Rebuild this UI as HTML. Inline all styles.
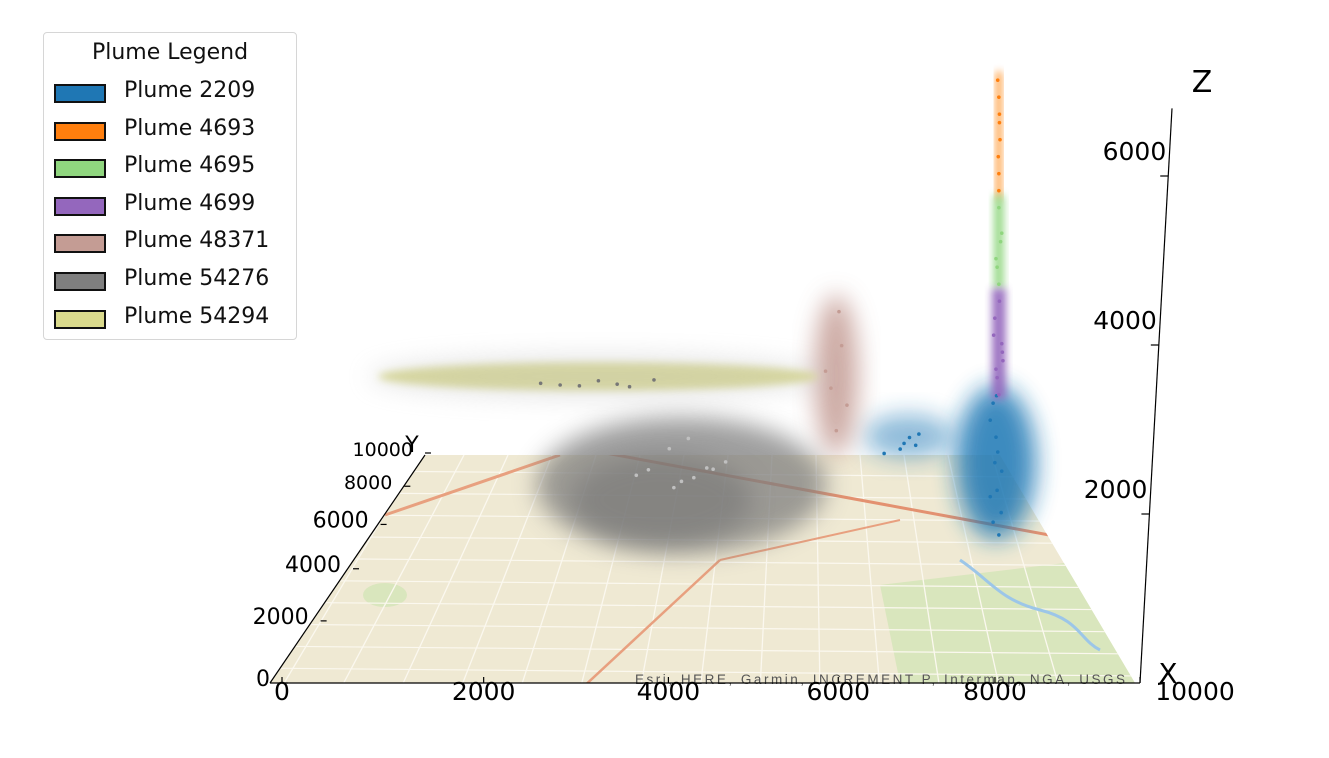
<!DOCTYPE html>
<html><head><meta charset="utf-8">
<style>
body{margin:0;background:#fff;width:1329px;height:758px;overflow:hidden;font-family:"DejaVu Sans","Liberation Sans",sans-serif;}
#legend{position:absolute;left:43px;top:32px;width:254px;height:308px;border:1.5px solid #d6d6d6;border-radius:4px;background:#fff;box-sizing:border-box;}
#legend .t{position:absolute;left:0;width:100%;top:7px;text-align:center;font-size:22px;color:#111;}
.ent{position:absolute;left:10px;height:22px;font-size:22px;color:#111;}
.ent .sw{position:absolute;left:0;top:1px;width:48px;height:15px;border:2px solid #111;}
.ent span{position:absolute;left:70px;top:-5px;white-space:nowrap;}
svg{position:absolute;left:0;top:0;}
</style></head><body>
<svg id="chart" width="1329" height="758"></svg>
<div id="legend">
<div class="t">Plume Legend</div>
</div>
<script>
const plumeNames=["Plume 2209","Plume 4693","Plume 4695","Plume 4699","Plume 48371","Plume 54276","Plume 54294"];
const plumeColors=["#1f77b4","#ff7f0e","#90d67f","#9467bd","#c49c94","#7f7f7f","#dbdb8d"];
// plume cloud centers in data units (x, y, z) and extents
const cloudX=[9000,9050,9050,9050,6700,4000,2600];
const cloudY=[5300,5300,5300,5300,9800,7800,10000];
const cloudZMin=[0,4000,2950,1650,0,0,700];
const cloudZMax=[1800,5500,4050,2950,1900,600,900];
const cloudRX=[40,5,10,14,22,145,220];
// scatter points (x, y, z) per plume, estimated
const ptsX=[[8950,9000,9050,8900,9100,9000,8980,8120,8000,8250,8300,7600,7900,8900,9100,9000,8950,9050],[9050,9040,9060,9050,9030,9070,9050,9060],[9050,9000,9100,9050,9080,9020],[9050,9000,9100,8980,9120,9060,9020,8960,9110],[6700,6600,6800,6750,6500,6900],[4000,3500,4500,3800,4200,3300,4700,4100,3900,4400],[2000,2600,3100,1700,3500,2300,2900]];
const ptsY=[[5300,5200,5400,5300,5350,5250,5300,9900,9800,9950,9850,9700,9600,5300,5300,5300,5300,5300],[5300,5300,5300,5300,5300,5300,5300,5300],[5300,5300,5300,5300,5300,5300],[5300,5300,5300,5300,5300,5300,5300,5300,5300],[9800,9800,9800,9800,9800,9800],[7800,7500,8000,8200,7300,7900,7700,8300,7000,7600],[10000,10000,10000,10000,10000,10000,10000]];
const ptsZ=[[200,600,1000,1400,300,1700,900,200,150,100,250,50,120,500,800,1200,1600,50],[4100,4500,4900,5200,5400,4700,4300,5000],[3000,3300,3600,3900,3500,3200],[1700,2000,2300,2600,2100,2800,1900,2400,2200],[300,800,1300,1700,1000,600],[100,300,200,400,250,150,350,500,200,300],[800,850,780,820,860,790,810]];
const xTicks=[0,2000,4000,6000,8000,10000];
const yTicks=[0,2000,4000,6000,8000,10000];
const zTicks=[2000,4000,6000];

const NS="http://www.w3.org/2000/svg";
const svg=document.getElementById('chart');
function F(t){const a=1.229;return t*a/(1+(a-1)*t);}
function G(t){const b=1.48;return t*b/(1+(b-1)*t);}
function proj(x,y,z){const g=G(y/10000);const L=282+143*g,R=1140-140*g;return [L+(R-L)*F(x/10000),683-230*g-z*0.085];}
function zAxis(z){return [1140+32*(z/6800),683-z*0.0845];}
function mk(tag,attrs,parent){const e=document.createElementNS(NS,tag);for(const k in attrs)e.setAttribute(k,attrs[k]);(parent||svg).appendChild(e);return e;}

const defs=mk('defs',{});
defs.innerHTML='<filter id="b1" x="-50%" y="-50%" width="200%" height="200%"><feGaussianBlur stdDeviation="12"/></filter><filter id="b2" x="-50%" y="-50%" width="200%" height="200%"><feGaussianBlur stdDeviation="4"/></filter><clipPath id="mapclip"><polygon points="270,683 1135,683 1000,455 425,455"/></clipPath>';

// map plane
const map=mk('g',{'clip-path':'url(#mapclip)'});


mk('polygon',{points:"270,683 1135,683 1000,455 425,455",fill:"#efe9d3"},map);
mk('polygon',{points:"880,585 1090,560 1135,683 900,683",fill:"#d9e6bd"},map);
mk('ellipse',{cx:385,cy:595,rx:22,ry:12,fill:"#d9e6bd"},map);
for(let i=0;i<14;i++){mk('line',{x1:280+i*60,y1:690,x2:420+i*44,y2:455,stroke:"#fbf8ef","stroke-width":1.3},map);}
for(let i=0;i<10;i++){const yy=470+i*22;mk('line',{x1:250,y1:yy,x2:1140,y2:yy+8,stroke:"#fbf8ef","stroke-width":1.2},map);}
mk('line',{x1:385,y1:515,x2:560,y2:455,stroke:"#e8a07f","stroke-width":3},map);
mk('line',{x1:600,y1:452,x2:1060,y2:537,stroke:"#e39170","stroke-width":3},map);
mk('line',{x1:580,y1:690,x2:720,y2:560,stroke:"#e8a07f","stroke-width":2.5},map);
mk('line',{x1:720,y1:560,x2:900,y2:520,stroke:"#e8a07f","stroke-width":2},map);
mk('path',{d:"M960,560 C990,580 1000,600 1040,610 S1080,640 1100,650",stroke:"#9cc6e8","stroke-width":3,fill:"none"},map);
const attr=mk('text',{x:635,y:684,'font-size':13.5,fill:"#555","font-family":"Liberation Sans, sans-serif",textLength:490});
attr.textContent="Esri, HERE, Garmin, INCREMENT P, Intermap, NGA, USGS";



// clouds
for(let i=0;i<plumeNames.length;i++){
  const g=mk('g',{});
  
  
  const b=proj(cloudX[i],cloudY[i],cloudZMin[i]),t=proj(cloudX[i],cloudY[i],cloudZMax[i]);
  const cy=(b[1]+t[1])/2, ry=Math.max(12,(b[1]-t[1])/2);
  if(i===5){mk('ellipse',{cx:b[0],cy:b[1]-5,rx:cloudRX[i],ry:68,fill:plumeColors[i],opacity:0.75,filter:'url(#b1)'},g);
    mk('ellipse',{cx:b[0]-20,cy:b[1]+10,rx:90,ry:45,fill:"#6f6f6f",opacity:0.5,filter:'url(#b1)'},g);}
  else if(i===6){mk('ellipse',{cx:b[0],cy:t[1],rx:cloudRX[i],ry:14,fill:plumeColors[i],opacity:0.9,filter:'url(#b2)'},g);
    mk('ellipse',{cx:b[0],cy:t[1],rx:cloudRX[i]+10,ry:22,fill:"#bbb",opacity:0.35,filter:'url(#b1)'},g);}
  else if(i===1||i===2||i===3){mk('rect',{x:b[0]-cloudRX[i]/2,y:t[1],width:cloudRX[i],height:b[1]-t[1],fill:plumeColors[i],opacity:0.9,filter:'url(#b2)'},g);}
  else {mk('ellipse',{cx:b[0],cy:cy,rx:cloudRX[i],ry:ry,fill:plumeColors[i],opacity:0.85,filter:'url(#b1)'},g);}
  if(i===0){const s=proj(8100,9900,120);mk('ellipse',{cx:s[0],cy:s[1]-8,rx:45,ry:22,fill:plumeColors[0],opacity:0.5,filter:'url(#b1)'},g);}
}
// points
for(let i=0;i<plumeNames.length;i++){
  for(let j=0;j<ptsX[i].length;j++){
    const p=proj(ptsX[i][j],ptsY[i][j],ptsZ[i][j]);
    const c=mk('circle',{cx:p[0],cy:p[1],r:1.8,fill:plumeColors[i]==="#7f7f7f"?"#c0c0c0":(i===6?"#777":plumeColors[i])});
    
    
  }
}
// axes
const ax=mk('g',{stroke:"#000","stroke-width":1.2});


mk('line',{x1:270,y1:683,x2:1140,y2:683},ax);
mk('line',{x1:270,y1:683,x2:425,y2:455},ax);
const z0=zAxis(0),z1=zAxis(6800);
mk('line',{x1:z0[0],y1:z0[1],x2:z1[0],y2:z1[1]},ax);
function txt(s,x,y,size,anchor,name){const e=mk('text',{x:x,y:y,'font-size':size,'text-anchor':anchor||'middle',fill:"#000","font-family":"DejaVu Sans, sans-serif"});e.textContent=s;return e;}
xTicks.forEach(v=>{const p=proj(v,0,0);mk('line',{x1:p[0],y1:683,x2:p[0],y2:677},ax);txt(String(v),p[0]+(v===10000?55:0),700,25,'middle','x-tick-label');});
yTicks.forEach(v=>{const p=proj(0,v,0);mk('line',{x1:p[0],y1:p[1],x2:p[0]+6,y2:p[1]},ax);const sz=v>=8000?19:22;txt(String(v),p[0]-12,p[1]+3,sz,'end','y-tick-label');});
zTicks.forEach(v=>{const p=zAxis(v);mk('line',{x1:p[0]-8,y1:p[1],x2:p[0],y2:p[1]},ax);txt(String(v),p[0]-2,p[1]-16,25,'end','z-tick-label');});
txt("X",1168,683,28,'middle','x-axis-title');
txt("Y",412,452,22,'middle','y-axis-title');
txt("Z",1202,92,30,'middle','z-axis-title');

// legend
const lg=document.getElementById('legend');
plumeNames.forEach((n,i)=>{
  const d=document.createElement('div');d.className='ent';d.style.top=(50+i*37.6)+'px';
  
  
  d.innerHTML='<div class="sw" style="background:'+plumeColors[i]+'"></div><span>'+n+'</span>';
  lg.appendChild(d);
});
</script>
</body></html>
